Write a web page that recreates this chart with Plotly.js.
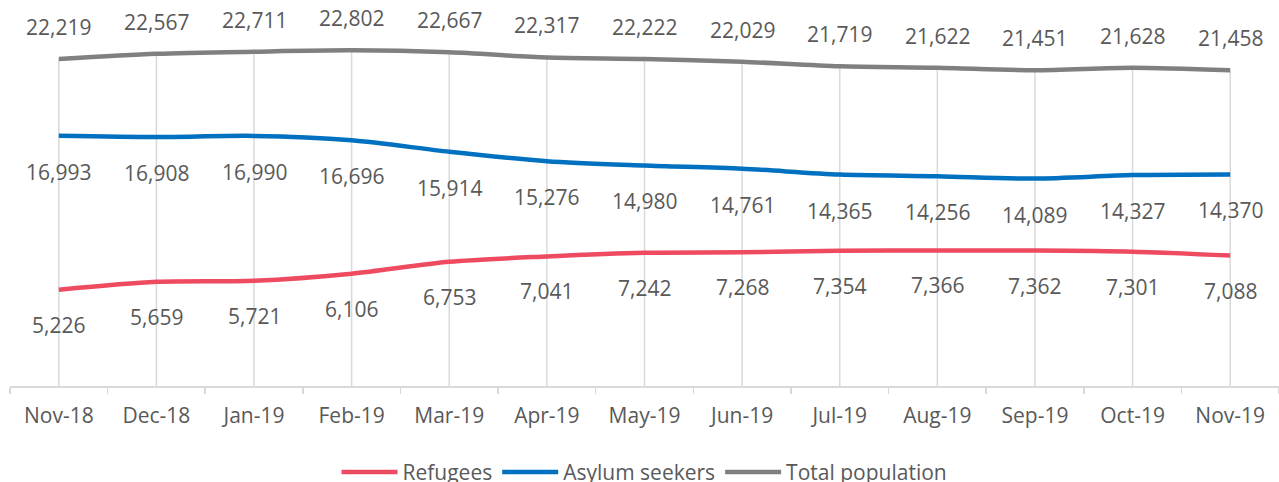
<!DOCTYPE html>
<html>
<head>
<meta charset="utf-8">
<script src="https://cdn.plot.ly/plotly-3.0.1.min.js"></script>
<style>html,body{margin:0;padding:0;background:#fff;}#chart{width:1279px;height:482px;}</style>
</head>
<body>
<div id="chart"></div>
<script>
const months = ["Nov-18","Dec-18","Jan-19","Feb-19","Mar-19","Apr-19","May-19","Jun-19","Jul-19","Aug-19","Sep-19","Oct-19","Nov-19"];
const refugees = [5226,5659,5721,6106,6753,7041,7242,7268,7354,7366,7362,7301,7088];
const asylumSeekers = [16993,16908,16990,16696,15914,15276,14980,14761,14365,14256,14089,14327,14370];
const totalPopulation = [22219,22567,22711,22802,22667,22317,22222,22029,21719,21622,21451,21628,21458];

const FONT = "'Open Sans', 'Noto Sans', sans-serif";
const TXT = "#595959";

// drop lines from the highest series down to the category axis
const dropX = [], dropY = [];
months.forEach((m, i) => { dropX.push(m, m, null); dropY.push(totalPopulation[i], 0, null); });

const traces = [
  {x: dropX, y: dropY, mode: "lines", yaxis: "y", showlegend: false, hoverinfo: "skip",
   line: {color: "#d9d9d9", width: 1.5}},
  {x: months, y: refugees, name: "Refugees", mode: "lines", yaxis: "y2",
   line: {color: "#EE4A60", width: 4.5, shape: "spline", smoothing: 0.8}},
  {x: months, y: asylumSeekers, name: "Asylum seekers", mode: "lines", yaxis: "y",
   line: {color: "#0070C0", width: 4.5, shape: "spline", smoothing: 0.8}},
  {x: months, y: totalPopulation, name: "Total population", mode: "lines", yaxis: "y",
   line: {color: "#808080", width: 4.5, shape: "spline", smoothing: 0.8}}
];

const fmt = v => v.toLocaleString("en-US");
const annotations = [];
function addLabels(vals, yref, shift) {
  vals.forEach((v, i) => annotations.push({
    x: months[i], y: v, xref: "x", yref: yref, text: fmt(v), showarrow: false,
    yshift: shift, font: {family: FONT, size: 21, color: TXT}
  }));
}
addLabels(totalPopulation, "y", 32);
addLabels(asylumSeekers, "y", -36);
addLabels(refugees, "y2", -35);

const layout = {
  width: 1279, height: 482,
  margin: {l: 10, r: 0, t: 18, b: 96},
  paper_bgcolor: "#fff", plot_bgcolor: "#fff",
  hovermode: false,
  font: {family: FONT, size: 21, color: TXT},
  xaxis: {
    type: "category", range: [-0.5, 12.5], showgrid: false, zeroline: false,
    showline: true, linecolor: "#d9d9d9", linewidth: 1.5,
    ticks: "outside", tickson: "boundaries", ticklen: 6, tickcolor: "#d9d9d9", tickwidth: 1.5,
    ticklabelstandoff: 10,
    tickfont: {family: FONT, size: 21, color: TXT}
  },
  yaxis: {range: [0, 25000], visible: false, showgrid: false, zeroline: false, fixedrange: true},
  yaxis2: {range: [0, 20000], visible: false, showgrid: false, zeroline: false, overlaying: "y", side: "right"},
  showlegend: true,
  legend: {orientation: "h", x: 0.5, xanchor: "center", yref: "container", y: 0.02, yanchor: "middle",
    font: {family: FONT, size: 21, color: TXT}, itemwidth: 56},
  annotations: annotations
};

Plotly.newPlot("chart", traces, layout, {displayModeBar: false, staticPlot: true});
</script>
</body>
</html>
